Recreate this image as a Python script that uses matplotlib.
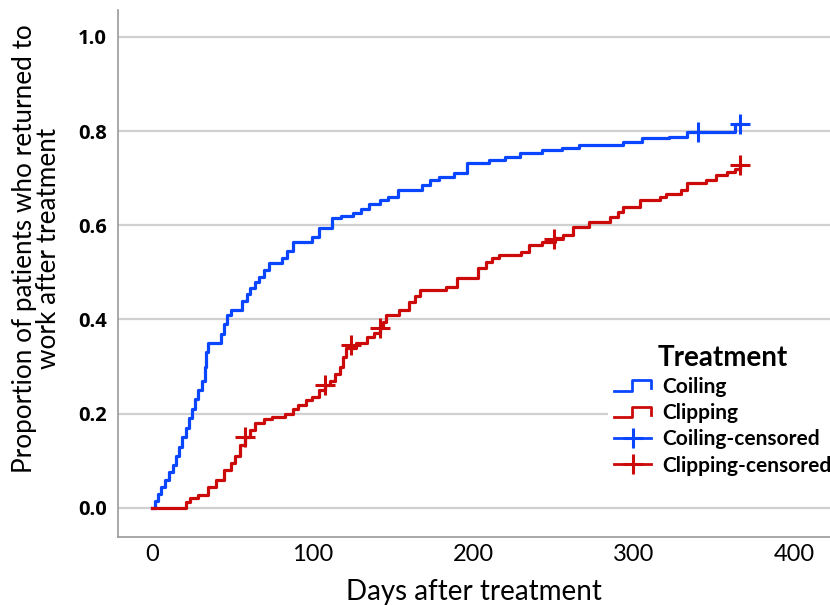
import matplotlib
matplotlib.use("Agg")
import matplotlib.pyplot as plt
from matplotlib.lines import Line2D
from matplotlib.legend_handler import HandlerBase

# step curves (day, cumulative proportion returned to work)
coil_days = [0, 2, 4, 6, 8, 11, 13, 15, 17, 19, 21, 23, 25, 27, 29, 31, 33, 34, 35,
             43, 45, 47, 49, 56, 59, 61, 64, 67, 70, 73, 81, 84, 88, 100, 104, 112,
             118, 125, 130, 135, 142, 147, 153, 168, 173, 179, 188, 196, 210, 220,
             229, 243, 255, 266, 293, 305, 322, 333, 363, 366]
coil_prop = [0.0, 0.015, 0.03, 0.045, 0.06, 0.075, 0.09, 0.11, 0.13, 0.15, 0.17, 0.19,
             0.21, 0.23, 0.25, 0.27, 0.30, 0.33, 0.35, 0.37, 0.39, 0.41, 0.42, 0.44,
             0.455, 0.467, 0.48, 0.49, 0.505, 0.52, 0.53, 0.545, 0.565, 0.575, 0.594,
             0.616, 0.62, 0.626, 0.635, 0.645, 0.654, 0.66, 0.675, 0.686, 0.695, 0.703,
             0.71, 0.732, 0.739, 0.745, 0.754, 0.76, 0.765, 0.771, 0.777, 0.786, 0.788,
             0.798, 0.815, 0.815]

clip_days = [0, 21, 24, 29, 35, 40, 45, 49, 52, 55, 58, 61, 64, 70, 75, 83, 88, 91, 96,
             100, 104, 108, 111, 114, 117, 119, 121, 127, 134, 138, 142, 144, 146, 154,
             160, 164, 167, 183, 190, 203, 208, 212, 216, 230, 235, 243, 251, 256, 262,
             272, 285, 290, 293, 304, 316, 320, 329, 333, 345, 351, 358, 363, 366]
clip_prop = [0.0, 0.012, 0.02, 0.028, 0.045, 0.06, 0.08, 0.095, 0.11, 0.134, 0.15, 0.165,
             0.18, 0.188, 0.193, 0.2, 0.21, 0.219, 0.228, 0.236, 0.25, 0.26, 0.27, 0.285,
             0.30, 0.32, 0.34, 0.35, 0.363, 0.372, 0.382, 0.395, 0.41, 0.42, 0.437, 0.45,
             0.463, 0.469, 0.488, 0.51, 0.522, 0.53, 0.537, 0.544, 0.558, 0.565, 0.573,
             0.58, 0.597, 0.607, 0.618, 0.628, 0.639, 0.654, 0.66, 0.667, 0.675, 0.69,
             0.697, 0.707, 0.713, 0.72, 0.728]

coil_cens_days = [340, 366]
coil_cens_prop = [0.798, 0.815]
clip_cens_days = [58, 108, 124, 142, 250, 366]
clip_cens_prop = [0.15, 0.26, 0.346, 0.382, 0.571, 0.728]

BLUE = "#0a46ff"
RED = "#cc0a0a"


class StepHandler(HandlerBase):
    def create_artists(self, legend, orig_handle, xdescent, ydescent, width, height,
                       fontsize, trans):
        x0 = -xdescent
        y0 = -ydescent
        xs = [x0, x0 + 0.48 * width, x0 + 0.48 * width, x0 + width, x0 + width]
        ys = [y0 + 0.15 * height, y0 + 0.15 * height, y0 + 0.85 * height,
              y0 + 0.85 * height, y0 + 0.3 * height]
        ln = Line2D(xs, ys, color=orig_handle.get_color(), lw=2, transform=trans)
        return [ln]


fig = plt.figure(figsize=(8.3, 6.05), dpi=100)
ax = fig.add_axes([118 / 830, 1 - 537 / 605, 1 - 118 / 830, 527 / 605])

ax.step(coil_days, coil_prop, where="post", color=BLUE, lw=2.3)
ax.step(clip_days, clip_prop, where="post", color=RED, lw=2.3)
ax.plot(coil_cens_days, coil_cens_prop, ls="none", marker="+", ms=15, mew=2.2, color=BLUE)
ax.plot(clip_cens_days, clip_cens_prop, ls="none", marker="+", ms=15, mew=2.2, color=RED)

ax.set_xlim(-21, 422)
ax.set_ylim(-0.062, 1.057)
ax.set_yticks([0.0, 0.2, 0.4, 0.6, 0.8, 1.0])
ax.set_yticklabels(["0.0", "0.2", "0.4", "0.6", "0.8", "1.0"],
                   fontfamily="Open Sans", fontweight="bold", fontsize=14.5)
ax.set_xticks([0, 100, 200, 300, 400])
ax.set_xticklabels(["0", "100", "200", "300", "400"], fontfamily="Lato", fontsize=17)
ax.tick_params(axis="x", length=0, pad=5)
ax.tick_params(axis="y", length=0, pad=8)
ax.grid(axis="y", color="#d0d0d0", lw=1.6)
ax.set_axisbelow(True)
for s in ["top", "right"]:
    ax.spines[s].set_visible(False)
for s in ["left", "bottom"]:
    ax.spines[s].set_color("#999999")
    ax.spines[s].set_linewidth(1.2)

ax.set_xlabel("Days after treatment", fontfamily="Lato", fontsize=20, labelpad=10)
ax.set_ylabel("Proportion of patients who returned to\nwork after treatment",
              fontfamily="Lato", fontsize=18.8, linespacing=0.95)
ax.yaxis.set_label_coords(-0.08, 0.548)

h_coil = Line2D([0], [0], color=BLUE)
h_clip = Line2D([0], [0], color=RED)
h_coil_c = Line2D([0], [0], color=BLUE, lw=2, marker="+", ms=14, mew=2.2)
h_clip_c = Line2D([0], [0], color=RED, lw=2, marker="+", ms=14, mew=2.2)
leg = ax.legend([h_coil, h_clip, h_coil_c, h_clip_c],
                ["Coiling", "Clipping", "Coiling-censored", "Clipping-censored"],
                handler_map={h_coil: StepHandler(), h_clip: StepHandler()},
                title="Treatment", loc="lower right", bbox_to_anchor=(1.025, 0.085),
                frameon=True, framealpha=1, edgecolor="none", facecolor="white",
                prop={"family": "Lato", "weight": "bold", "size": 15},
                handlelength=1.8, handletextpad=0.5, labelspacing=0.3,
                borderpad=0.3, alignment="center")
leg.get_title().set_fontfamily("Lato")
leg.get_title().set_fontweight("bold")
leg.get_title().set_fontsize(20)

fig.savefig("out.png", dpi=100)
